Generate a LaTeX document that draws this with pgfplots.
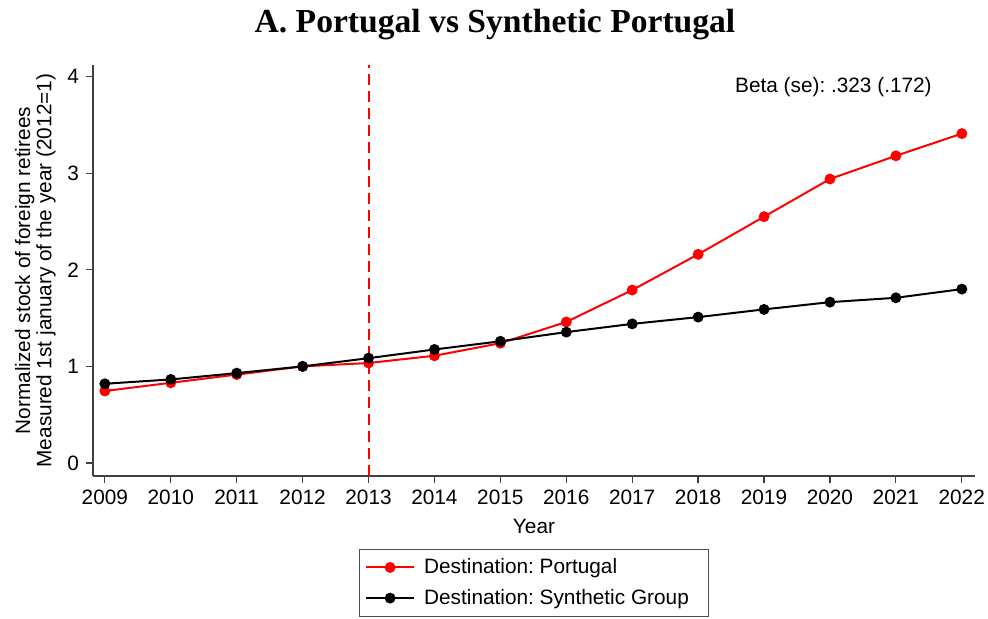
\documentclass[border=0pt]{standalone}
\usepackage{pgfplots}
\pgfplotsset{compat=1.18}
\usepackage{fontspec}
\setmainfont{Liberation Sans}
\newfontfamily\titlefont{Liberation Serif}
\frenchspacing
\begin{document}
\begin{tikzpicture}
\useasboundingbox (-46.5pt,-71pt) rectangle (447.5pt,238pt);
\begin{axis}[
  scale only axis,
  width=441pt, height=205.5pt,
  at={(0,0)}, anchor=south west,
  xmin=2008.82, xmax=2022.2,
  ymin=-0.135, ymax=4.12,
  axis x line*=bottom, axis y line*=left,
  axis line style={draw=black!75, line width=0.6pt},
  xtick={2009,...,2022}, ytick={0,1,2,3,4},
  tick align=outside, tick style={draw=black!75, line width=0.6pt},
  major tick length=3.5pt,
  /pgf/number format/assume math mode=true,
  xticklabel style={/pgf/number format/1000 sep={}, font=\fontsize{10.4}{12}\selectfont},
  yticklabel style={font=\fontsize{10.4}{12}\selectfont},
  xlabel={Year}, xlabel style={font=\fontsize{10.4}{12}\selectfont, yshift=-0.5pt},
  ylabel={Normalized stock of foreign retirees\\Measured 1st january of the year (2012=1)},
  ylabel style={font=\fontsize{10.4}{10.6}\selectfont, align=center, yshift=-1pt},
  title={\titlefont\bfseries A. Portugal vs Synthetic Portugal},
  title style={font=\fontsize{16.8}{19}\selectfont, yshift=3pt, xshift=-19.5pt},
  legend style={at={(axis description cs:0.5,0)}, yshift=-36.5pt, anchor=north,
    draw=black!70, font=\fontsize{10.4}{12}\selectfont, row sep=2.3pt,
    inner xsep=3pt, inner ysep=2.5pt},
  legend cell align=left,
  legend image code/.code={
    \draw[#1] (0pt,0pt) -- (24pt,0pt);
    \draw[#1, only marks] plot coordinates {(12pt,0pt)};
  },
  clip=false,
]
\addplot[red, line width=1pt, mark=*, mark size=2.2pt] coordinates {
(2009,0.745) (2010,0.83) (2011,0.915) (2012,1.0) (2013,1.035) (2014,1.11)
(2015,1.24) (2016,1.46) (2017,1.79) (2018,2.16) (2019,2.55) (2020,2.94)
(2021,3.18) (2022,3.41)};
\addlegendentry{\hspace*{2.5pt}Destination: Portugal}
\addplot[black, line width=1pt, mark=*, mark size=2.2pt] coordinates {
(2009,0.82) (2010,0.865) (2011,0.93) (2012,1.0) (2013,1.085) (2014,1.175)
(2015,1.26) (2016,1.355) (2017,1.44) (2018,1.51) (2019,1.59) (2020,1.665)
(2021,1.71) (2022,1.80)};
\addlegendentry{\hspace*{2.5pt}Destination: Synthetic Group\hspace*{5pt}}
\draw[red, line width=1pt, dash pattern=on 5.5pt off 3pt] (axis cs:2013,-0.135) -- (axis cs:2013,4.12);
\node[anchor=east, font=\fontsize{10.4}{12}\selectfont] at (axis cs:2021.65,3.89) {Beta (se): .323 (.172)};
\end{axis}
\end{tikzpicture}
\end{document}
